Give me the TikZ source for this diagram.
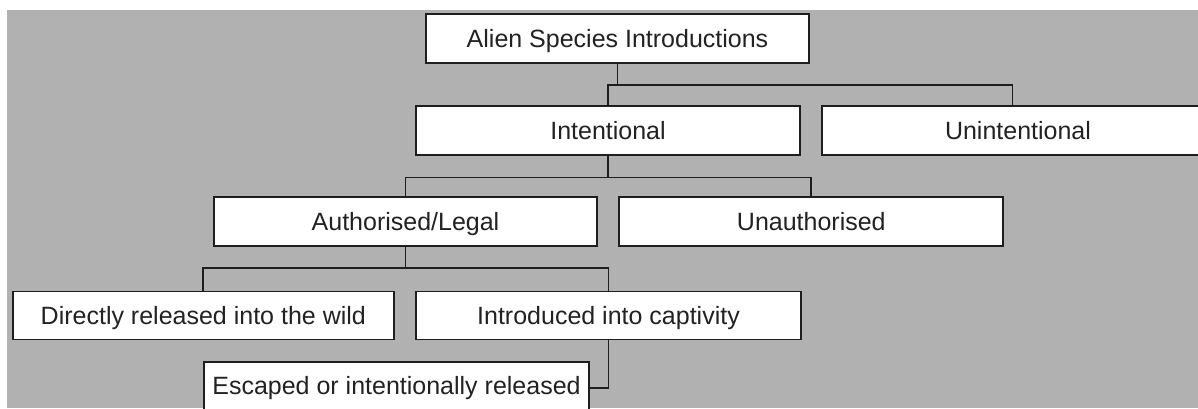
\documentclass[tikz,border=0pt]{standalone}
\usepackage{fontspec}
\setmainfont{Liberation Sans}
\definecolor{bg}{RGB}{177,177,177}
\definecolor{linec}{RGB}{30,30,30}
\definecolor{textc}{RGB}{34,34,34}
\begin{document}
\begin{tikzpicture}[x=1pt,y=-1pt,
  box/.style={draw=linec, fill=white, line width=1.8pt, inner sep=0pt,
    font=\fontsize{25}{30}\selectfont, text=textc,
    text height=17.9pt, text depth=0pt, minimum height=49pt},
  link/.style={draw=linec, line width=1.8pt}]
\useasboundingbox (0,0) rectangle (1198,408);
\clip (0,0) rectangle (1198,408);
% grey panel
\fill[bg] (7,10) rectangle (1198,408);

% boxes
\node[box, minimum width=383pt] (alien)   at (617.5,38.3)  {Alien Species Introductions};
\node[box, minimum width=384pt] (intent)  at (608,130.8)   {Intentional};
\node[box, minimum width=392pt] (unint)   at (1018,130.8)  {Unintentional};
\node[box, minimum width=383pt] (auth)    at (405.5,221.8) {Authorised/Legal};
\node[box, minimum width=384pt] (unauth)  at (811.3,221.8) {Unauthorised};
\node[box, minimum width=381pt, minimum height=48pt] (direct)  at (203.3,315.4) {Directly released into the wild};
\node[box, minimum width=385pt, minimum height=48pt] (captive) at (608.5,315.4) {Introduced into captivity};
\node[box, minimum width=385pt, minimum height=48pt] (escaped) at (396.5,386)   {Escaped or intentionally released};

% bus lines
\coordinate (b1) at (0,85);
\coordinate (b2) at (0,177.5);
\coordinate (b3) at (0,268.3);

\draw[link] (alien.south) -- (alien.south |- b1);
\draw[link] (intent.north) -- (intent.north |- b1)
  -- ([xshift=-5.5pt]unint.north |- b1) -- ([xshift=-5.5pt]unint.north);

\draw[link] (intent.south) -- (intent.south |- b2);
\draw[link] (auth.north) -- (auth.north |- b2) -- (unauth.north |- b2) -- (unauth.north);

\draw[link] (auth.south) -- (auth.south |- b3);
\draw[link] (direct.north) -- (direct.north |- b3) -- (captive.north |- b3) -- (captive.north);

\draw[link] (captive.south) |- ([yshift=-2pt]escaped.east);
\end{tikzpicture}
\end{document}
